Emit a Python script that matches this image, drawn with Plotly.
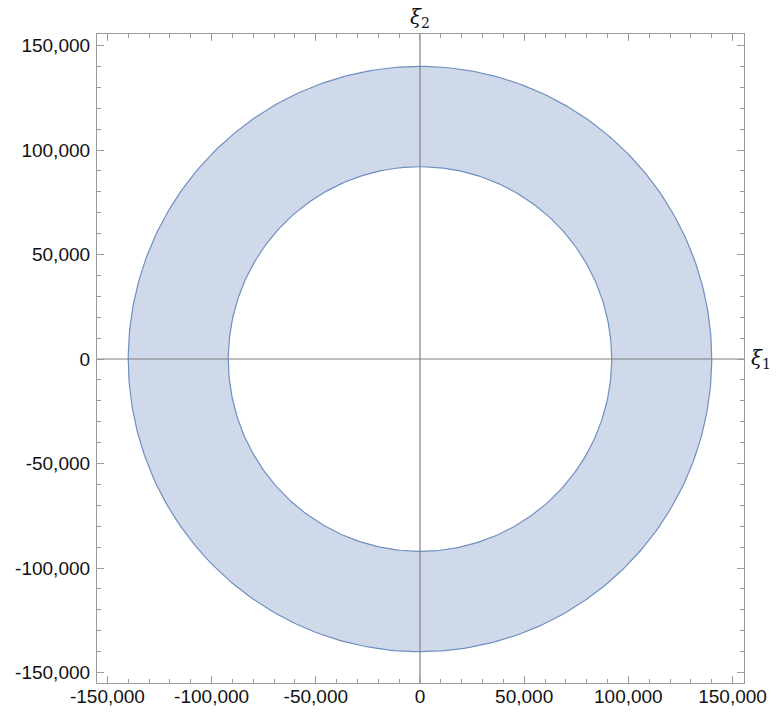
import numpy as np
import plotly.graph_objects as go

# Annulus bounds in the (xi1, xi2) plane
r_inner = 92000
r_outer = 140000

# Axis ticks
tick_vals = [-150000, -100000, -50000, 0, 50000, 100000, 150000]
tick_text = ["-150,000", "-100,000", "-50,000", "0", "50,000", "100,000", "150,000"]
axis_range = [-155000, 155500]

fill_color = "#cfd9e9"
edge_color = "#6f8fc2"
axis_gray = "#808080"

theta = np.linspace(0, 2 * np.pi, 361)
xo, yo = r_outer * np.cos(theta), r_outer * np.sin(theta)
xi, yi = r_inner * np.cos(theta[::-1]), r_inner * np.sin(theta[::-1])

fig = go.Figure()
# filled ring: outer boundary counter-clockwise, inner boundary clockwise
fig.add_trace(go.Scatter(
    x=np.concatenate([xo, xi]), y=np.concatenate([yo, yi]),
    mode="lines", fill="toself", fillcolor=fill_color,
    line=dict(width=0), hoverinfo="skip", showlegend=False))
for r in (r_outer, r_inner):
    fig.add_trace(go.Scatter(
        x=r * np.cos(theta), y=r * np.sin(theta), mode="lines",
        line=dict(color=edge_color, width=1.2), hoverinfo="skip", showlegend=False))
# coordinate axes through the origin
fig.add_trace(go.Scatter(x=axis_range, y=[0, 0], mode="lines",
                         line=dict(color=axis_gray, width=1.2), showlegend=False))
fig.add_trace(go.Scatter(x=[0, 0], y=axis_range, mode="lines",
                         line=dict(color=axis_gray, width=1.2), showlegend=False))

axis_common = dict(
    range=axis_range, tickvals=tick_vals, ticktext=tick_text, automargin=False,
    showgrid=False, zeroline=False, showline=True, linecolor="#9a9a9a", linewidth=1.2,
    mirror="ticks", ticks="inside", ticklen=7, tickcolor="#9a9a9a", tickwidth=1,
    minor=dict(dtick=10000, ticks="inside", ticklen=4, tickcolor="#9a9a9a", tickwidth=1),
    tickfont=dict(family="Liberation Sans, Arial", size=19, color="#111111"),
)

fig.update_layout(
    width=777, height=712,
    margin=dict(l=97, r=33, t=34, b=29),
    paper_bgcolor="white", plot_bgcolor="white",
    xaxis=dict(**axis_common, ticklabelstandoff=-4),
    yaxis=dict(**axis_common, ticklabelstandoff=2),
    annotations=[
        dict(x=0, y=1, xref="x", yref="paper", text="<i>ξ</i><sub>2</sub>",
             showarrow=False, yanchor="bottom", xanchor="center", yshift=1,
             font=dict(family="DejaVu Serif", size=20, color="#111111")),
        dict(x=1, y=0, xref="paper", yref="y", text="<i>ξ</i><sub>1</sub>",
             showarrow=False, xanchor="left", yanchor="middle", xshift=5,
             font=dict(family="DejaVu Serif", size=20, color="#111111")),
    ],
)

fig.write_html("out.html")
